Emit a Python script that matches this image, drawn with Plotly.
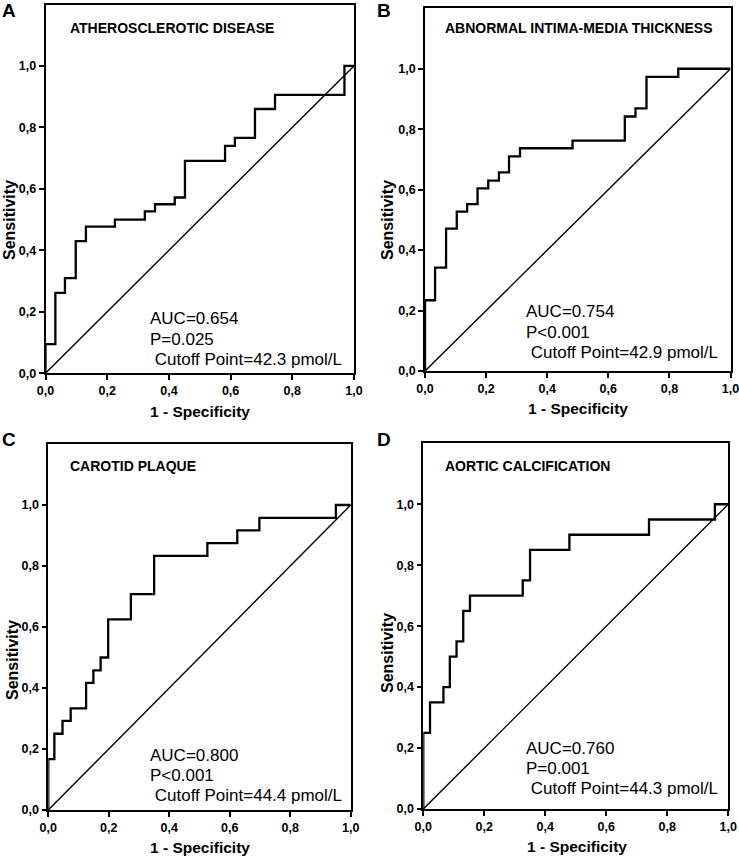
import plotly.graph_objects as go

W, H = 739, 857

# ---- data ----
panel_letters = ["A", "B", "C", "D"]
panel_titles = ["ATHEROSCLEROTIC DISEASE", "ABNORMAL INTIMA-MEDIA THICKNESS",
                "CAROTID PLAQUE", "AORTIC CALCIFICATION"]
auc_text = ["AUC=0.654", "AUC=0.754", "AUC=0.800", "AUC=0.760"]
p_text = ["P=0.025", "P<0.001", "P<0.001", "P=0.001"]
cutoff_text = [" Cutoff Point=42.3 pmol/L", " Cutoff Point=42.9 pmol/L",
               " Cutoff Point=44.4 pmol/L", " Cutoff Point=44.3 pmol/L"]

fpr_a = [0, 0, 0.032, 0.063, 0.098, 0.131, 0.225, 0.322, 0.355, 0.419, 0.452, 0.582, 0.614, 0.679, 0.744, 0.969, 1.0]
tpr_a = [0, 0.095, 0.262, 0.31, 0.43, 0.477, 0.50, 0.527, 0.55, 0.572, 0.691, 0.74, 0.766, 0.86, 0.906, 1.0, 1.0]

fpr_b = [0, 0, 0.033, 0.069, 0.104, 0.138, 0.172, 0.207, 0.242, 0.275, 0.311, 0.483, 0.654, 0.689, 0.725, 0.829, 1.0]
tpr_b = [0, 0.234, 0.342, 0.471, 0.527, 0.552, 0.604, 0.63, 0.657, 0.71, 0.737, 0.762, 0.842, 0.869, 0.973, 1.0, 1.0]

fpr_c = [0, 0, 0.02, 0.047, 0.074, 0.125, 0.149, 0.173, 0.198, 0.273, 0.35, 0.526, 0.625, 0.698, 0.951, 1.0]
tpr_c = [0, 0.167, 0.25, 0.292, 0.333, 0.417, 0.458, 0.5, 0.625, 0.708, 0.833, 0.875, 0.917, 0.958, 1.0, 1.0]

fpr_d = [0, 0, 0.022, 0.066, 0.087, 0.109, 0.131, 0.153, 0.326, 0.35, 0.479, 0.74, 0.956, 1.0]
tpr_d = [0, 0.25, 0.35, 0.40, 0.50, 0.55, 0.65, 0.70, 0.75, 0.85, 0.90, 0.95, 1.0, 1.0]

ref_line = [0, 1]
tick_vals = [0, 0.2, 0.4, 0.6, 0.8, 1.0]
tick_text = ["0,0", "0,2", "0,4", "0,6", "0,8", "1,0"]

curves = [(fpr_a, tpr_a), (fpr_b, tpr_b), (fpr_c, tpr_c), (fpr_d, tpr_d)]

# ---- layout (pixel boxes of each plot area: left, right, top, bottom) ----
boxes = [(45.5, 354, 4.5, 373.3), (425, 730.5, 8.3, 371),
         (48.3, 350.7, 444, 810), (423.3, 728.3, 443.3, 809)]
letter_pos = [(9, 10), (384, 10), (9, 439), (384, 439)]
title_pos = [(68, 28), (443, 28), (68, 466), (443, 466)]
stat_pos = [(148, 319), (524, 312), (148, 755), (524, 748)]
xtitle_pos = [(200, 411), (578, 408), (200, 847), (577, 846)]
ytitle_pos = [(9, 220), (387, 220), (12, 660), (387, 653)]

FONT = "Liberation Sans, Arial, sans-serif"

fig = go.Figure()
annotations = []
layout = {}
for i, (fx, ty) in enumerate(curves):
    sfx = "" if i == 0 else str(i + 1)
    xa, ya = "x" + sfx, "y" + sfx
    l, r, t, b = boxes[i]
    common = dict(
        tickvals=tick_vals, ticktext=tick_text, ticks="outside", ticklen=5,
        tickwidth=1.5, tickcolor="black",
        tickfont=dict(family=FONT, size=12.5, color="black", weight="bold"),
        showline=True, linecolor="black", linewidth=1.6, mirror=True,
        showgrid=False, zeroline=False, fixedrange=True, automargin=False,
        ticklabeloverflow="allow")
    layout["xaxis" + sfx] = dict(domain=[l / W, r / W], range=[0, 1], anchor=ya, **common)
    layout["yaxis" + sfx] = dict(domain=[1 - b / H, 1 - t / H], range=[0, 1.2], anchor=xa, **common)
    fig.add_trace(go.Scatter(x=ref_line, y=ref_line, mode="lines",
                             line=dict(color="black", width=1.4),
                             xaxis=xa, yaxis=ya, showlegend=False, hoverinfo="skip"))
    fig.add_trace(go.Scatter(x=fx, y=ty, mode="lines", line_shape="hv",
                             line=dict(color="black", width=2.3),
                             xaxis=xa, yaxis=ya, showlegend=False))
    lx, ly = letter_pos[i]
    annotations.append(dict(text="<b>" + panel_letters[i] + "</b>", x=lx / W, y=1 - ly / H,
                            xref="paper", yref="paper", xanchor="center", yanchor="middle",
                            showarrow=False, font=dict(family=FONT, size=19, color="black")))
    tx, tyy = title_pos[i]
    annotations.append(dict(text="<b>" + panel_titles[i] + "</b>", x=tx / W, y=1 - tyy / H,
                            xref="paper", yref="paper", xanchor="left", yanchor="middle",
                            showarrow=False, font=dict(family=FONT, size=14, color="black")))
    sx, sy = stat_pos[i]
    for k, s in enumerate([auc_text[i], p_text[i], cutoff_text[i]]):
        annotations.append(dict(text=s.replace(" ", "&nbsp;", 1) if s.startswith(" ") else s,
                                x=sx / W, y=1 - (sy + 20 * k) / H,
                                xref="paper", yref="paper", xanchor="left", yanchor="middle",
                                showarrow=False, font=dict(family=FONT, size=17, color="black")))
    xx, xy = xtitle_pos[i]
    annotations.append(dict(text="<b>1 - Specificity</b>", x=xx / W, y=1 - xy / H,
                            xref="paper", yref="paper", xanchor="center", yanchor="middle",
                            showarrow=False, font=dict(family=FONT, size=15.5, color="black")))
    yx, yy = ytitle_pos[i]
    annotations.append(dict(text="<b>Sensitivity</b>", x=yx / W, y=1 - yy / H, textangle=-90,
                            xref="paper", yref="paper", xanchor="center", yanchor="middle",
                            showarrow=False, font=dict(family=FONT, size=16, color="black")))

fig.update_layout(width=W, height=H, margin=dict(l=0, r=0, t=0, b=0),
                  paper_bgcolor="white", plot_bgcolor="white",
                  annotations=annotations, **layout)
fig.write_html("out.html", config={"displayModeBar": False},
               post_script="document.body.style.margin='0';document.body.style.overflow='hidden';")
